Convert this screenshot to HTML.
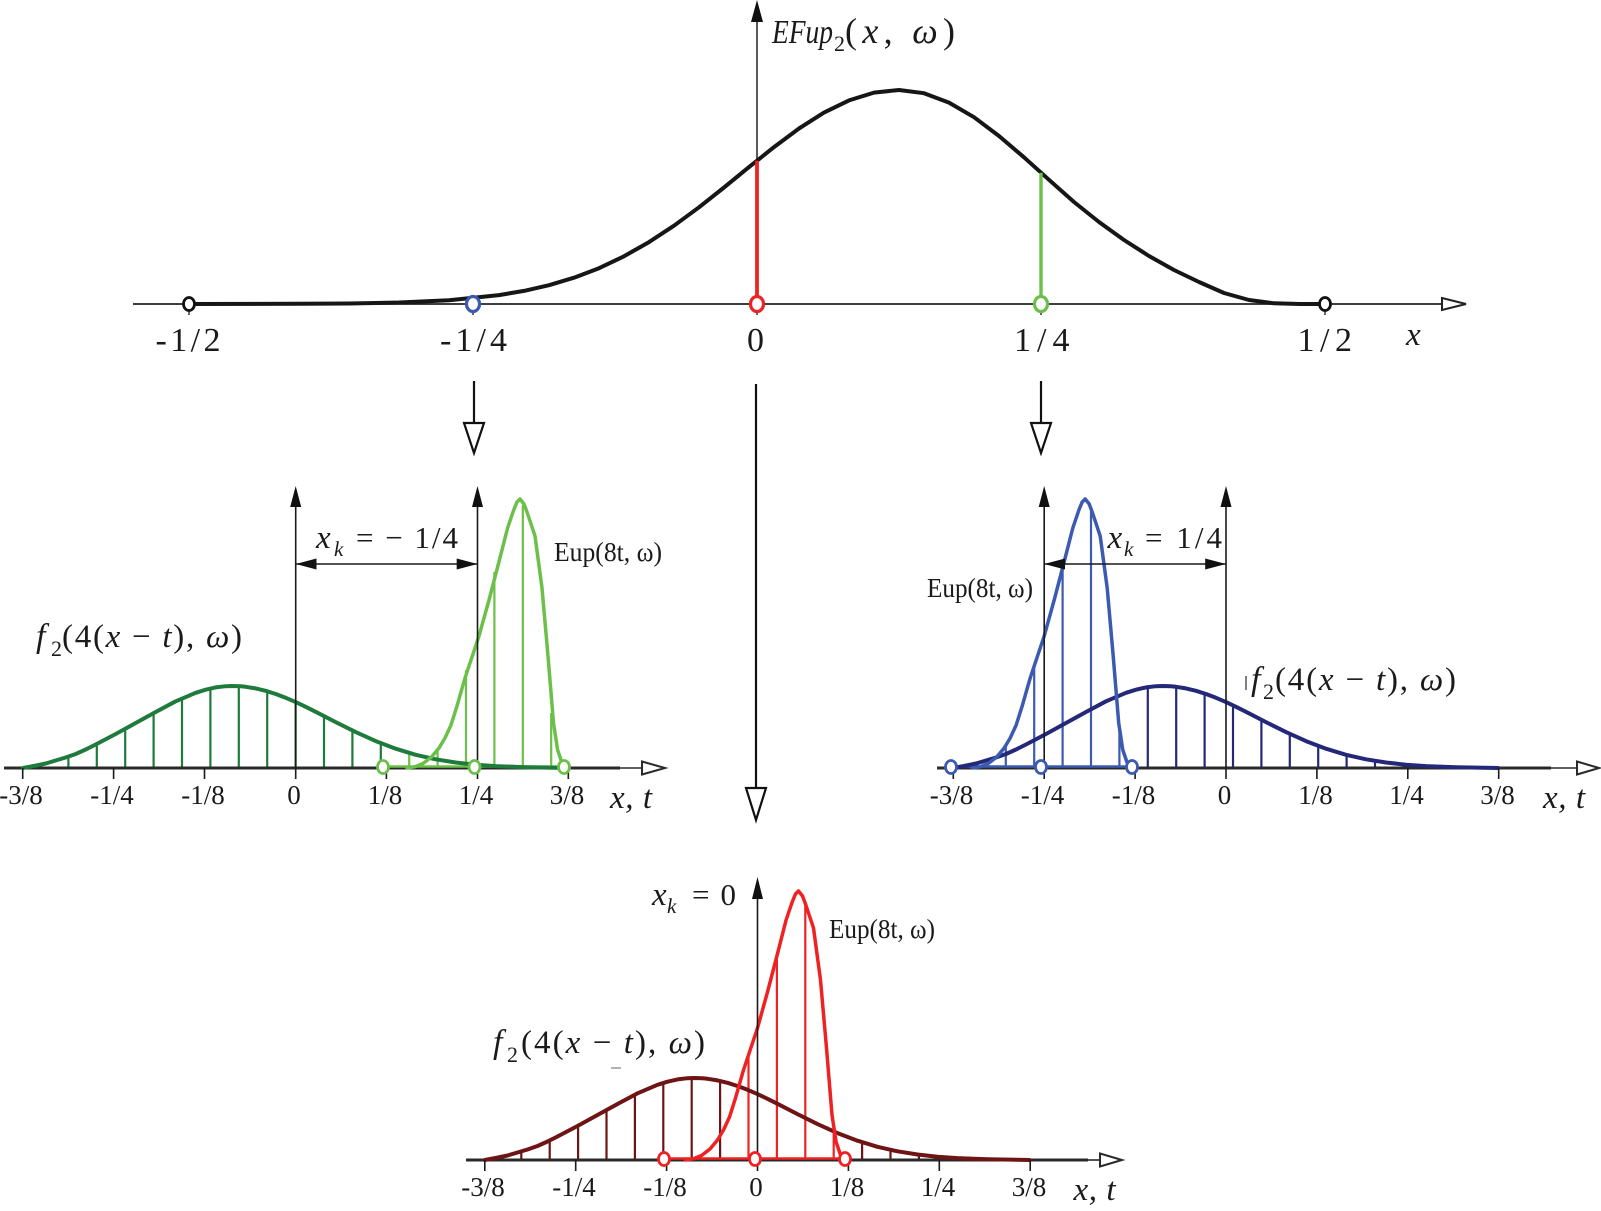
<!DOCTYPE html>
<html><head><meta charset="utf-8"><style>
html,body{margin:0;padding:0;background:#fff;}
svg{display:block;}
text{font-family:"Liberation Serif","DejaVu Serif",serif;fill:#1a1a1a;}
.it{font-style:italic;}
</style></head><body>
<svg width="1601" height="1211" viewBox="0 0 1601 1211" xmlns="http://www.w3.org/2000/svg">
<rect width="1601" height="1211" fill="#fff"/>
<defs>
<path id="f2" fill="none" stroke-linejoin="round" stroke-linecap="round" d="M-272.7,0 L-262,-2 L-250,-4.5 L-240,-7.5 L-230,-10.5 L-220,-14 L-210,-18.5 L-200,-23.5 L-180,-34 L-160,-45 L-140,-56 L-120,-66.7 L-100,-75.2 L-90,-78.3 L-80,-80.6 L-70,-81.8 L-63.4,-82 L-55,-81.7 L-50,-81.2 L-40,-79.6 L-30,-77.2 L-20,-74 L-10,-70.2 L0,-65.9 L10,-61.2 L20,-56.2 L40,-45.9 L60,-35.9 L80,-26.9 L100,-19.3 L120,-13.2 L140,-8.7 L160,-5.5 L180,-3.3 L200,-1.9 L230,-0.8 L272,0"/>
<path id="eup" fill="none" stroke-linejoin="round" stroke-linecap="round" d="M-72,0 L-64,-1.3 L-56,-4.5 L-47.5,-11 L-40,-20 L-34,-30 L-28,-43 L-22,-62 L-14,-90 L-6,-114 L0,-132 L10,-168 L19.4,-204 L28.6,-240 L34.7,-258 L38,-266 L41,-269 L45,-264 L48,-256 L56,-232 L63,-180 L69,-112 L74.5,-45 L78.6,-18 L82.7,-6 L87.8,0"/>
</defs>

<!-- ================= TOP PLOT ================= -->
<line x1="133" y1="304" x2="1442" y2="304" stroke="#222" stroke-width="1.8"/>
<polygon points="1442,298 1466,304 1442,310" fill="#fff" stroke="#222" stroke-width="2"/>
<line x1="757" y1="20" x2="757" y2="304" stroke="#222" stroke-width="1.5"/>
<polygon points="757,0 751,22 763,22" fill="#111"/>
<g stroke="#333" stroke-width="1.5">
<line x1="189" y1="304" x2="189" y2="315"/>
<line x1="473" y1="304" x2="473" y2="315"/>
<line x1="757" y1="304" x2="757" y2="315"/>
<line x1="1041" y1="304" x2="1041" y2="315"/>
<line x1="1325" y1="304" x2="1325" y2="315"/>
</g>
<path fill="none" stroke="#161616" stroke-width="4" stroke-linejoin="round" d="M189,304 L299,303.8 L349,303.5 L399,302.5 L449,300.2 L499,295.1 L524,290.9 L549,285.2 L574,277.7 L599,268.2 L624,256.3 L649,242.1 L674,225.7 L699,207.3 L724,187.5 L749,167.1 L774,147.1 L799,128.5 L824,112.6 L849,100.4 L874,92.6 L899,90 L924,93.2 L949,102.6 L974,117.2 L999,136 L1024,157.3 L1049,179.8 L1074,202 L1099,222 L1124,240 L1149,256 L1174,270 L1199,282 L1224,293 L1249,300 L1274,303.3 L1300,304 L1325,304"/>
<line x1="757" y1="160.7" x2="757" y2="304" stroke="#ee2222" stroke-width="3.8"/>
<line x1="1041" y1="172.7" x2="1041" y2="304" stroke="#6cc04a" stroke-width="3.4"/>
<ellipse cx="189" cy="304" rx="5.5" ry="6.5" fill="#fff" stroke="#111" stroke-width="2.8"/>
<ellipse cx="1325" cy="304" rx="5.5" ry="6.5" fill="#fff" stroke="#111" stroke-width="2.8"/>
<ellipse cx="473" cy="304" rx="6.5" ry="7.5" fill="#fff" stroke="#3c5aaf" stroke-width="3.2"/>
<ellipse cx="757" cy="304" rx="6.5" ry="7.5" fill="#fff" stroke="#ee2222" stroke-width="3.2"/>
<ellipse cx="1041" cy="304" rx="6.5" ry="7.5" fill="#fff" stroke="#6cc04a" stroke-width="3.2"/>

<text x="772" y="43" font-size="34" class="it" textLength="61" lengthAdjust="spacingAndGlyphs">EFup</text>
<text x="834" y="51" font-size="22">2</text>
<text x="845" y="43" font-size="36" textLength="110" lengthAdjust="spacing">(<tspan class="it">x</tspan>, <tspan class="it">ω</tspan>)</text>

<text x="155.5" y="351" font-size="34" textLength="65" lengthAdjust="spacing">-1/2</text>
<text x="440" y="351" font-size="34" textLength="67" lengthAdjust="spacing">-1/4</text>
<text x="747" y="351" font-size="34">0</text>
<text x="1014" y="351" font-size="34" textLength="55.5" lengthAdjust="spacing">1/4</text>
<text x="1297.5" y="351" font-size="34" textLength="54.5" lengthAdjust="spacing">1/2</text>
<text x="1406" y="345" font-size="33" class="it">x</text>

<!-- down arrows -->
<g stroke="#111" stroke-width="2.2" fill="#fff">
<line x1="474" y1="381" x2="474" y2="423"/>
<polygon points="464,423 484,423 474,453"/>
<line x1="1041" y1="381" x2="1041" y2="423"/>
<polygon points="1031,423 1051,423 1041,453"/>
<line x1="756" y1="384" x2="756" y2="788"/>
<polygon points="746,788 766,788 756,820"/>
</g>

<!-- ================= LEFT PLOT ================= -->
<g stroke-width="2.2">
<g stroke="#1e7b3c">
<line x1="68.4" y1="768" x2="68.4" y2="756.6"/>
<line x1="96.8" y1="768" x2="96.8" y2="744"/>
<line x1="125.2" y1="768" x2="125.2" y2="728.5"/>
<line x1="153.6" y1="768" x2="153.6" y2="713"/>
<line x1="182" y1="768" x2="182" y2="698.6"/>
<line x1="210.4" y1="768" x2="210.4" y2="688.5"/>
<line x1="238.8" y1="768" x2="238.8" y2="686.2"/>
<line x1="267.2" y1="768" x2="267.2" y2="691.2"/>
<line x1="295.6" y1="768" x2="295.6" y2="702.1"/>
<line x1="324" y1="768" x2="324" y2="716"/>
<line x1="352.4" y1="768" x2="352.4" y2="730.5"/>
<line x1="380.8" y1="768" x2="380.8" y2="743.2"/>
</g>
<g stroke="#6cc04a">
<line x1="409.2" y1="768" x2="409.2" y2="753"/>
<line x1="437.6" y1="768" x2="437.6" y2="748"/>
<line x1="466" y1="768" x2="466" y2="670"/>
<line x1="494.4" y1="768" x2="494.4" y2="572"/>
<line x1="522.8" y1="768" x2="522.8" y2="505"/>
<line x1="551.2" y1="768" x2="551.2" y2="713"/>
</g>
</g>
<line x1="4" y1="768" x2="620" y2="768" stroke="#2a2a2a" stroke-width="3"/>
<line x1="620" y1="768" x2="642" y2="768" stroke="#2a2a2a" stroke-width="1.6"/>
<polygon points="642,761.5 665,768 642,774.5" fill="#fff" stroke="#2a2a2a" stroke-width="2"/>
<line x1="383" y1="766.5" x2="564" y2="766.5" stroke="#6cc04a" stroke-width="2.4"/>
<use href="#f2" x="295.7" y="768" stroke="#1e7b3c" stroke-width="4"/>
<use href="#eup" x="479" y="768" stroke="#6cc04a" stroke-width="3.5"/>
<g stroke="#1a1a1a" stroke-width="1.6">
<line x1="295.7" y1="505" x2="295.7" y2="779"/>
<line x1="477.5" y1="505" x2="477.5" y2="779"/>
<line x1="295.7" y1="564" x2="477.5" y2="564"/>
<line x1="22.7" y1="768" x2="22.7" y2="779"/>
<line x1="113.6" y1="768" x2="113.6" y2="779"/>
<line x1="204.5" y1="768" x2="204.5" y2="779"/>
<line x1="386.4" y1="768" x2="386.4" y2="779"/>
<line x1="568.3" y1="768" x2="568.3" y2="779"/>
</g>
<g fill="#111">
<polygon points="295.7,486 290.2,507 301.2,507"/>
<polygon points="477.5,486 472,507 483,507"/>
<polygon points="295.7,564 316.5,558.5 316.5,569.5"/>
<polygon points="477.5,564 456.7,558.5 456.7,569.5"/>
</g>
<g fill="#fff" stroke="#6cc04a" stroke-width="2.8">
<ellipse cx="383" cy="767" rx="5.5" ry="6.5"/>
<ellipse cx="474.5" cy="767" rx="5.5" ry="6.5"/>
<ellipse cx="564" cy="767" rx="5.5" ry="6.5"/>
</g>
<g font-size="27" text-anchor="middle">
<text x="21" y="804">-3/8</text>
<text x="112" y="804">-1/4</text>
<text x="203" y="804">-1/8</text>
<text x="294" y="804">0</text>
<text x="385" y="804">1/8</text>
<text x="476" y="804">1/4</text>
<text x="567" y="804">3/8</text>
</g>
<text x="610" y="808" font-size="33" class="it" textLength="42" lengthAdjust="spacing">x, t</text>
<text x="316" y="548" font-size="33" class="it">x</text>
<text x="334" y="556" font-size="21" class="it">k</text>
<text x="356" y="548" font-size="31" textLength="102" lengthAdjust="spacing">= − 1/4</text>
<text x="554" y="561" font-size="27" textLength="108" lengthAdjust="spacingAndGlyphs">Eup(8t, ω)</text>
<text x="36" y="647" font-size="34" class="it">f</text>
<text x="51" y="656" font-size="22">2</text>
<text x="62" y="647" font-size="33" textLength="180" lengthAdjust="spacing">(4(<tspan class="it">x</tspan> − <tspan class="it">t</tspan>), <tspan class="it">ω</tspan>)</text>

<!-- ================= RIGHT PLOT ================= -->
<g stroke-width="2.2">
<g stroke="#3c5aaf">
<line x1="977.4" y1="768" x2="977.4" y2="763.2"/>
<line x1="1005.8" y1="768" x2="1005.8" y2="745.5"/>
<line x1="1034.2" y1="768" x2="1034.2" y2="666"/>
<line x1="1062.6" y1="768" x2="1062.6" y2="568"/>
<line x1="1091" y1="768" x2="1091" y2="508"/>
<line x1="1119.4" y1="768" x2="1119.4" y2="728"/>
</g>
<g stroke="#232878">
<line x1="1147.8" y1="768" x2="1147.8" y2="687.3"/>
<line x1="1176.2" y1="768" x2="1176.2" y2="686.8"/>
<line x1="1204.6" y1="768" x2="1204.6" y2="693.5"/>
<line x1="1233" y1="768" x2="1233" y2="705.3"/>
<line x1="1261.4" y1="768" x2="1261.4" y2="719.7"/>
<line x1="1289.8" y1="768" x2="1289.8" y2="733.9"/>
<line x1="1318.2" y1="768" x2="1318.2" y2="746"/>
<line x1="1346.6" y1="768" x2="1346.6" y2="754.9"/>
<line x1="1375" y1="768" x2="1375" y2="760.9"/>
</g>
</g>
<line x1="937" y1="768" x2="1551" y2="768" stroke="#2a2a2a" stroke-width="3"/>
<line x1="1551" y1="768" x2="1578" y2="768" stroke="#2a2a2a" stroke-width="1.6"/>
<polygon points="1577,761.5 1599,768 1577,774.5" fill="#fff" stroke="#2a2a2a" stroke-width="2"/>
<line x1="951" y1="766.5" x2="1132" y2="766.5" stroke="#3c5aaf" stroke-width="2.4"/>
<use href="#f2" x="1226" y="768" stroke="#232878" stroke-width="4"/>
<use href="#eup" x="1044.2" y="768" stroke="#3c5aaf" stroke-width="3.5"/>
<g stroke="#1a1a1a" stroke-width="1.6">
<line x1="1044.2" y1="505" x2="1044.2" y2="779"/>
<line x1="1226" y1="505" x2="1226" y2="779"/>
<line x1="1044.2" y1="564" x2="1226" y2="564"/>
<line x1="953.3" y1="768" x2="953.3" y2="779"/>
<line x1="1135.1" y1="768" x2="1135.1" y2="779"/>
<line x1="1316.9" y1="768" x2="1316.9" y2="779"/>
<line x1="1407.8" y1="768" x2="1407.8" y2="779"/>
<line x1="1498.7" y1="768" x2="1498.7" y2="779"/>
</g>
<g fill="#111">
<polygon points="1044.2,486 1038.7,507 1049.7,507"/>
<polygon points="1226,486 1220.5,507 1231.5,507"/>
<polygon points="1044.2,564 1065,558.5 1065,569.5"/>
<polygon points="1226,564 1205.2,558.5 1205.2,569.5"/>
</g>
<g fill="#fff" stroke="#3c5aaf" stroke-width="2.8">
<ellipse cx="951" cy="767" rx="5.5" ry="6.5"/>
<ellipse cx="1041" cy="767" rx="5.5" ry="6.5"/>
<ellipse cx="1132" cy="767" rx="5.5" ry="6.5"/>
</g>
<g font-size="27" text-anchor="middle">
<text x="951.5" y="804">-3/8</text>
<text x="1042.5" y="804">-1/4</text>
<text x="1133.5" y="804">-1/8</text>
<text x="1224.5" y="804">0</text>
<text x="1315.5" y="804">1/8</text>
<text x="1406.5" y="804">1/4</text>
<text x="1497.5" y="804">3/8</text>
</g>
<text x="1543" y="808" font-size="33" class="it" textLength="42" lengthAdjust="spacing">x, t</text>
<text x="1107.5" y="548" font-size="33" class="it">x</text>
<text x="1124" y="556" font-size="21" class="it">k</text>
<text x="1145" y="548" font-size="31" textLength="77" lengthAdjust="spacing">= 1/4</text>
<text x="927" y="597" font-size="27" textLength="106" lengthAdjust="spacingAndGlyphs">Eup(8t, ω)</text>
<line x1="1246" y1="676" x2="1246" y2="690" stroke="#555" stroke-width="1.5"/>
<text x="1251" y="690" font-size="34" class="it">f</text>
<text x="1263" y="699" font-size="22">2</text>
<text x="1275" y="690" font-size="33" textLength="181" lengthAdjust="spacing">(4(<tspan class="it">x</tspan> − <tspan class="it">t</tspan>), <tspan class="it">ω</tspan>)</text>

<!-- ================= BOTTOM PLOT ================= -->
<g stroke-width="2.2">
<g stroke="#6e1414">
<line x1="521.3" y1="1160" x2="521.3" y2="1151.4"/>
<line x1="549.7" y1="1160" x2="549.7" y2="1140.5"/>
<line x1="578.1" y1="1160" x2="578.1" y2="1125.6"/>
<line x1="606.5" y1="1160" x2="606.5" y2="1110"/>
<line x1="634.9" y1="1160" x2="634.9" y2="1094.6"/>
<line x1="663.3" y1="1160" x2="663.3" y2="1083"/>
<line x1="691.7" y1="1160" x2="691.7" y2="1078.1"/>
<line x1="720.1" y1="1160" x2="720.1" y2="1081"/>
<line x1="862.1" y1="1160" x2="862.1" y2="1142.2"/>
<line x1="890.5" y1="1160" x2="890.5" y2="1149.9"/>
<line x1="918.9" y1="1160" x2="918.9" y2="1154.7"/>
</g>
<g stroke="#ee2222">
<line x1="748.5" y1="1160" x2="748.5" y2="1055"/>
<line x1="776.9" y1="1160" x2="776.9" y2="956"/>
<line x1="805.3" y1="1160" x2="805.3" y2="903"/>
<line x1="833.7" y1="1160" x2="833.7" y2="1126.5"/>
</g>
</g>
<line x1="466" y1="1160" x2="1088" y2="1160" stroke="#2a2a2a" stroke-width="3"/>
<line x1="1088" y1="1160" x2="1100" y2="1160" stroke="#2a2a2a" stroke-width="1.6"/>
<polygon points="1100,1153.5 1122,1160 1100,1166.5" fill="#fff" stroke="#2a2a2a" stroke-width="2"/>
<line x1="664" y1="1158.5" x2="845" y2="1158.5" stroke="#ee2222" stroke-width="2.4"/>
<use href="#f2" x="757.5" y="1160" stroke="#6e1414" stroke-width="4"/>
<use href="#eup" x="757.5" y="1160" stroke="#ee2222" stroke-width="3.5"/>
<g stroke="#1a1a1a" stroke-width="1.6">
<line x1="757.5" y1="897" x2="757.5" y2="1171"/>
<line x1="484.8" y1="1160" x2="484.8" y2="1171"/>
<line x1="575.7" y1="1160" x2="575.7" y2="1171"/>
<line x1="666.6" y1="1160" x2="666.6" y2="1171"/>
<line x1="848.4" y1="1160" x2="848.4" y2="1171"/>
<line x1="939.3" y1="1160" x2="939.3" y2="1171"/>
<line x1="1030.2" y1="1160" x2="1030.2" y2="1171"/>
</g>
<polygon points="757.5,877 752,899 763,899" fill="#111"/>
<g fill="#fff" stroke="#ee2222" stroke-width="2.8">
<ellipse cx="664" cy="1159" rx="5.5" ry="6.5"/>
<ellipse cx="755" cy="1159" rx="5.5" ry="6.5"/>
<ellipse cx="845" cy="1159" rx="5.5" ry="6.5"/>
</g>
<g font-size="27" text-anchor="middle">
<text x="483" y="1196">-3/8</text>
<text x="574" y="1196">-1/4</text>
<text x="665" y="1196">-1/8</text>
<text x="756" y="1196">0</text>
<text x="847" y="1196">1/8</text>
<text x="938" y="1196">1/4</text>
<text x="1029" y="1196">3/8</text>
</g>
<text x="1073.5" y="1200" font-size="33" class="it" textLength="42" lengthAdjust="spacing">x, t</text>
<text x="652" y="905" font-size="33" class="it">x</text>
<text x="667" y="913" font-size="21" class="it">k</text>
<text x="692" y="905" font-size="31" textLength="44" lengthAdjust="spacing">= 0</text>
<text x="829" y="938" font-size="27" textLength="106" lengthAdjust="spacingAndGlyphs">Eup(8t, ω)</text>
<text x="493" y="1053" font-size="34" class="it">f</text>
<text x="507" y="1062" font-size="22">2</text>
<text x="521" y="1053" font-size="33" textLength="184" lengthAdjust="spacing">(4(<tspan class="it">x</tspan> − <tspan class="it">t</tspan>), <tspan class="it">ω</tspan>)</text>
<line x1="611" y1="1068" x2="621" y2="1068" stroke="#999" stroke-width="1.5"/>
</svg>
</body></html>
